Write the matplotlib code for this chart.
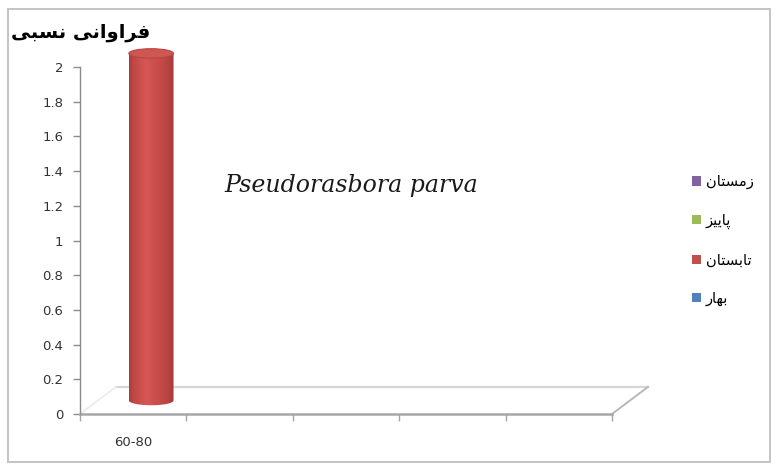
import numpy as np
import matplotlib
matplotlib.use("Agg")
import matplotlib.pyplot as plt
from matplotlib.patches import Rectangle, Ellipse, PathPatch, Polygon, Patch
from matplotlib.path import Path

# ---- data -------------------------------------------------------------
categories = ["60-80", "", "", "", ""]
seasons = ["بهار", "تابستان", "پاییز", "زمستان"]
season_colors = ["#4F81BD", "#C0504D", "#9BBB59", "#8064A2"]
spring = [0, 0, 0, 0, 0]
summer = [2, 0, 0, 0, 0]
autumn = [0, 0, 0, 0, 0]
winter = [0, 0, 0, 0, 0]
series = [spring, summer, autumn, winter]
y_ticks = [0, 0.2, 0.4, 0.6, 0.8, 1, 1.2, 1.4, 1.6, 1.8, 2]
y_title = "فراوانی نسبی"
species = "Pseudorasbora parva"

# ---- Persian shaping (presentation forms, visual order) ---------------
FORMS = {
    "ا": ("\uFE8D", "\uFE8E", None, None),
    "ب": ("\uFE8F", "\uFE90", "\uFE91", "\uFE92"),
    "پ": ("\uFB56", "\uFB57", "\uFB58", "\uFB59"),
    "ت": ("\uFE95", "\uFE96", "\uFE97", "\uFE98"),
    "ر": ("\uFEAD", "\uFEAE", None, None),
    "ز": ("\uFEAF", "\uFEB0", None, None),
    "س": ("\uFEB1", "\uFEB2", "\uFEB3", "\uFEB4"),
    "ف": ("\uFED1", "\uFED2", "\uFED3", "\uFED4"),
    "م": ("\uFEE1", "\uFEE2", "\uFEE3", "\uFEE4"),
    "ن": ("\uFEE5", "\uFEE6", "\uFEE7", "\uFEE8"),
    "ه": ("\uFEE9", "\uFEEA", "\uFEEB", "\uFEEC"),
    "و": ("\uFEED", "\uFEEE", None, None),
    "ی": ("\uFBFC", "\uFBFD", "\uFBFE", "\uFBFF"),
}


def shape(text):
    out = []
    for i, c in enumerate(text):
        if c not in FORMS:
            out.append(c)
            continue
        iso, fin, ini, med = FORMS[c]
        prev = text[i - 1] if i > 0 else None
        nxt = text[i + 1] if i + 1 < len(text) else None
        join_prev = prev in FORMS and FORMS[prev][2] is not None
        join_next = ini is not None and nxt in FORMS
        if join_prev and join_next:
            out.append(med)
        elif join_prev:
            out.append(fin)
        elif join_next:
            out.append(ini)
        else:
            out.append(iso)
    return "".join(reversed(out))


# ---- figure -----------------------------------------------------------
W, H = 774, 469
fig = plt.figure(figsize=(W / 100, H / 100), dpi=100)
fig.patch.set_facecolor("white")
fig.patches.append(Rectangle((8 / W, 7 / H), 762 / W, 453 / H, transform=fig.transFigure,
                             fill=False, ec="#C4C4C4", lw=1.4))

ax = fig.add_axes([80 / W, (H - 414) / H, 532 / W, 347 / H])
n = len(categories)
ax.set_xlim(0, n)
ax.set_ylim(0, 2)
ax.patch.set_alpha(0)

# depth offset of the 3D floor (data units)
dx, dy = 0.338, 0.156

floor = Polygon([(0, 0), (n, 0), (n + dx, dy), (dx, dy)], closed=True,
                fc="white", ec="none", clip_on=False, zorder=1)
ax.add_patch(floor)
ax.plot([dx, n + dx], [dy, dy], color="#D6D6D6", lw=1.6, clip_on=False, zorder=2)
ax.plot([0, dx], [0, dy], color="#EBEBEB", lw=1.2, clip_on=False, zorder=2)
ax.plot([n, n + dx], [0, dy], color="#B8B8B8", lw=1.4, clip_on=False, zorder=2)

# cylinders
cyl_w, ell_h = 0.42, 0.055
grad_stops = np.array([
    [0.00, 0.66, 0.24, 0.23],
    [0.10, 0.75, 0.28, 0.27],
    [0.38, 0.84, 0.34, 0.33],
    [0.65, 0.79, 0.30, 0.29],
    [0.90, 0.71, 0.26, 0.25],
    [1.00, 0.64, 0.22, 0.21],
])
xs = np.linspace(0, 1, 200)
grad = np.stack([np.interp(xs, grad_stops[:, 0], grad_stops[:, k]) for k in (1, 2, 3)], axis=-1)
grad = grad[None, :, :]

for s_idx, vals in enumerate(series):
    for i, v in enumerate(vals):
        if v <= 0:
            continue
        cx = i + 0.5 + dx / 2
        base = dy / 2
        top = base + v
        x0, x1 = cx - cyl_w / 2, cx + cyl_w / 2
        t = np.linspace(0, -np.pi, 60)
        bx = cx + cyl_w / 2 * np.cos(t)
        by = base + ell_h / 2 * np.sin(t)
        verts = np.column_stack([np.r_[x1, bx, x0, x1], np.r_[top, by, top, top]])
        body = PathPatch(Path(verts, closed=True), fc="none", ec="none",
                         clip_on=False, zorder=3)
        ax.add_patch(body)
        im = ax.imshow(grad, extent=[x0, x1, base - ell_h, top], aspect="auto",
                       zorder=3, interpolation="bilinear")
        im.set_clip_box(fig.bbox)
        im.set_clip_path(body)
        cap = Ellipse((cx, top), cyl_w, ell_h, fc="#CE5753", ec="#B9453F",
                      lw=0.8, zorder=4, clip_on=False)
        ax.add_patch(cap)

ax.set_xlim(0, n)
ax.set_ylim(0, 2)

# axes styling
for side in ("top", "right"):
    ax.spines[side].set_visible(False)
ax.spines["left"].set_color("#8C8C8C")
ax.spines["left"].set_linewidth(1.0)
ax.spines["bottom"].set_color("#A6A6A6")
ax.spines["bottom"].set_linewidth(1.8)
ax.spines["bottom"].set_zorder(2)

ax.set_yticks(y_ticks)
ax.set_yticklabels([f"{v:g}" for v in y_ticks])
ax.tick_params(axis="y", length=5, width=1, color="#8C8C8C", labelsize=9.5,
               labelcolor="#333333", pad=7)
ax.set_xticks(range(n + 1))
ax.set_xticklabels([""] * (n + 1))
ax.tick_params(axis="x", which="major", length=5, width=1, color="#A6A6A6")
ax.set_xticks([i + 0.5 for i in range(n)], minor=True)
ax.set_xticklabels(categories, minor=True)
ax.tick_params(axis="x", which="minor", length=0, labelsize=9.5,
               labelcolor="#333333", pad=16)

# titles
fig.text(150 / W, 1 - 32 / H, shape(y_title), ha="right", va="center",
         fontsize=14, fontweight="bold", family="DejaVu Sans", color="black")
fig.text(351 / W, 1 - 185 / H, species, ha="center", va="center", fontsize=17,
         style="italic", family="DejaVu Serif", color="#1A1A1A")

# legend (reverse order, as stacked in the chart)
handles = [Patch(fc=season_colors[k], ec="none") for k in range(len(seasons))][::-1]
labels = [shape(s) for s in seasons][::-1]
fig.legend(handles, labels, loc="center left", bbox_to_anchor=(692 / W, 1 - 240 / H),
           frameon=False, fontsize=10.5, handlelength=0.6, handleheight=0.6,
           handletextpad=0.35, labelspacing=1.6, borderpad=0, borderaxespad=0)

fig.savefig("out.png", dpi=100)
